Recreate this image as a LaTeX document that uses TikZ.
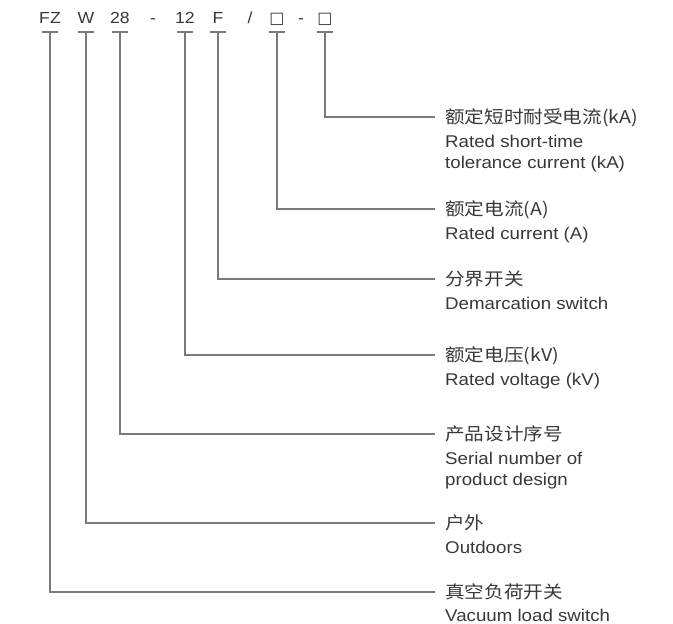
\documentclass[tikz,border=0pt]{standalone}
\usepackage{fontspec}
\setmainfont{Liberation Sans}[FakeStretch=1.1]
\newfontfamily\cjk{Noto Sans CJK SC}[FakeStretch=1.12]
\newfontfamily\sym{DejaVu Sans}
\usetikzlibrary{positioning}

\begin{document}
\begin{tikzpicture}
[x=1pt, y=-1pt,
 code/.style={anchor=base, inner sep=0pt, text=black!78, font=\fontsize{16}{16}\selectfont},
 lead/.style={draw=black!52, line width=1.8pt},
 head/.style={anchor=west, inner sep=0pt, text height=15pt, text depth=2pt, text=black!78, font=\cjk\fontsize{17.5}{21}\selectfont},
 desc/.style={inner sep=0pt, align=left, text=black!78, font=\fontsize{17}{21}\selectfont}]
\useasboundingbox (0,0) rectangle (673,624);

% model code
\node[code] (fz) at (50,23) {FZ};
\node[code] (w) at (86,23) {W};
\node[code] (n28) at (120,23) {28};
\node[code] (d1) at (153,23) {-};
\node[code] (n12) at (185,23) {12};
\node[code] (f) at (218,23) {F};
\node[code] (sl) at (250,23) {/};
\node[code] (sqa) at (277,23) {\sym □};
\node[code] (d2) at (301,23) {-};
\node[code] (sqb) at (325,23) {\sym □};

% meanings
\node[head] (lsqb) at (445,117) {额定短时耐受电流(kA)};
\node[desc, below right=9pt and 0pt of lsqb.south west] (esqb) {Rated short-time\\tolerance current (kA)};
\node[head] (lsqa) at (445,209) {额定电流(A)};
\node[desc, below right=9pt and 0pt of lsqa.south west] (esqa) {Rated current (A)};
\node[head] (lf) at (445,279) {分界开关};
\node[desc, below right=9pt and 0pt of lf.south west] (ef) {Demarcation switch};
\node[head] (ln12) at (445,355) {额定电压(kV)};
\node[desc, below right=9pt and 0pt of ln12.south west] (en12) {Rated voltage (kV)};
\node[head] (ln28) at (445,434) {产品设计序号};
\node[desc, below right=9pt and 0pt of ln28.south west] (en28) {Serial number of\\product design};
\node[head] (lw) at (445,523) {户外};
\node[desc, below right=9pt and 0pt of lw.south west] (ew) {Outdoors};
\node[head] (lfz) at (445,592) {真空负荷开关};
\node[desc, below right=8pt and 0pt of lfz.south west] (efz) {Vacuum load switch};

\foreach \from/\to in {fz/lfz,w/lw,n28/ln28,n12/ln12,f/lf,sqa/lsqa,sqb/lsqb}
{
	\draw[lead] ([shift={(-8pt,-9pt)}]\from.base) -- ([shift={(8pt,-9pt)}]\from.base);
	\draw[lead] ([yshift=-9pt]\from.base) |- ([xshift=-10pt]\to.west);
}

\end{tikzpicture}
\end{document}
